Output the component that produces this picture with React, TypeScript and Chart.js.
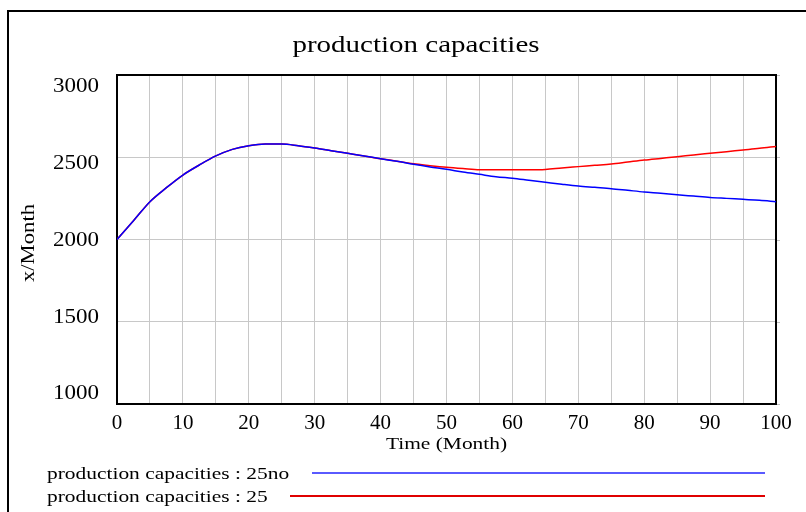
import { useEffect, useRef } from "react";
import { Chart, registerables } from "chart.js";

Chart.register(...registerables);

const chartTitle = "production capacities";
const xAxisTitle = "Time (Month)";
const yAxisTitle = "x/Month";
const seriesNames = ["production capacities : 25no", "production capacities : 25"];

const months = [
  0, 2.5, 5, 7.5, 10, 12.5, 15, 17.5, 20, 22.5, 25, 27.5, 30, 32.5, 35, 37.5, 40, 42.5,
  45, 47.5, 50, 52.5, 55, 57.5, 60, 62.5, 65, 67.5, 70, 72.5, 75, 77.5, 80, 82.5, 85, 87.5,
  90, 92.5, 95, 97.5, 100,
];

const capacity25no = [
  2000, 2114, 2230, 2315, 2392, 2453, 2508, 2548, 2570, 2580, 2580, 2570, 2556, 2540, 2524, 2508, 2491, 2475,
  2457, 2441, 2427, 2410, 2396, 2382, 2372, 2360, 2348, 2336, 2325, 2317, 2309, 2299, 2289, 2281, 2272, 2264,
  2256, 2250, 2244, 2238, 2230,
];

const capacity25 = [
  2000, 2114, 2230, 2315, 2392, 2453, 2508, 2548, 2570, 2580, 2580, 2570, 2556, 2540, 2524, 2508, 2491, 2476,
  2460, 2449, 2439, 2431, 2424, 2424, 2424, 2424, 2426, 2435, 2443, 2451, 2459, 2471, 2483, 2493, 2503, 2514,
  2524, 2534, 2544, 2554, 2566,
];

const xTickLabels = ["0", "10", "20", "30", "40", "50", "60", "70", "80", "90", "100"];
const yTickLabels = ["1000", "1500", "2000", "2500", "3000"];

const FONT = '"Liberation Serif", "Times New Roman", serif';
const SX = 1.26;

function stretchedText(
  ctx: CanvasRenderingContext2D,
  text: string,
  x: number,
  y: number,
  size: number,
  align: CanvasTextAlign,
  sx: number,
  rotate = 0,
  baseline: CanvasTextBaseline = "alphabetic"
) {
  ctx.save();
  ctx.translate(x, y);
  if (rotate) ctx.rotate(rotate);
  ctx.scale(sx, 1);
  ctx.font = `${size}px ${FONT}`;
  ctx.fillStyle = "#000";
  ctx.textAlign = align;
  ctx.textBaseline = baseline;
  ctx.fillText(text, 0, 0);
  ctx.restore();
}

const decorPlugin = {
  id: "decor",
  beforeDatasetsDraw(chart: any) {
    const { ctx, chartArea: a } = chart;
    const ys = chart.scales.y;
    ctx.save();
    // small ticks beyond right border
    ctx.strokeStyle = "#c0c0c0";
    ctx.lineWidth = 1;
    yTickLabels.forEach((l) => {
      const py = Math.round(ys.getPixelForValue(Number(l))) + 0.5;
      ctx.beginPath();
      ctx.moveTo(a.right, py);
      ctx.lineTo(a.right + 4, py);
      ctx.stroke();
    });
    ctx.strokeStyle = "#000";
    ctx.lineWidth = 2;
    ctx.strokeRect(a.left, a.top, a.right - a.left, a.bottom - a.top);
    ctx.restore();
  },
  afterDraw(chart: any) {
    const { ctx, chartArea: a } = chart;
    const ys = chart.scales.y;
    // outer frame
    ctx.save();
    ctx.strokeStyle = "#000";
    ctx.lineWidth = 2;
    ctx.strokeRect(8, 11, 820, 520);
    ctx.restore();

    // y tick labels (laid inside the axis range, as in the source)
    const h = a.bottom - a.top;
    const top = a.top + 12;
    const bottom = a.bottom - 10;
    yTickLabels.forEach((l) => {
      const py = ys.getPixelForValue(Number(l));
      const ly = top + ((py - a.top) * (bottom - top)) / h;
      stretchedText(ctx, l, 99, ly, 20, "right", 1.15, 0, "middle");
    });

    stretchedText(ctx, chartTitle, 416, 52, 23, "center", SX);
    stretchedText(ctx, xAxisTitle, (a.left + a.right) / 2, 449, 17, "center", SX);
    stretchedText(ctx, yAxisTitle, 34, 243, 18, "center", SX, -Math.PI / 2);

    const rows = [
      { y: 479, lineY: 473, x0: 312, color: "#5a5aff" },
      { y: 502, lineY: 496, x0: 290, color: "#e00000" },
    ];
    rows.forEach((r, i) => {
      stretchedText(ctx, seriesNames[i], 47, r.y, 17, "left", SX);
      ctx.save();
      ctx.strokeStyle = r.color;
      ctx.lineWidth = 2;
      ctx.beginPath();
      ctx.moveTo(r.x0, r.lineY);
      ctx.lineTo(765, r.lineY);
      ctx.stroke();
      ctx.restore();
    });
  },
};

export default function App() {
  const ref = useRef<HTMLCanvasElement | null>(null);

  useEffect(() => {
    if (!ref.current) return;
    const chart = new Chart(ref.current, {
      type: "line",
      data: {
        datasets: [
          {
            label: seriesNames[0],
            data: months.map((m, i) => ({ x: m, y: capacity25no[i] })),
            borderColor: "#0000ff",
            borderWidth: 1.5,
            pointRadius: 0,
            cubicInterpolationMode: "monotone",
            order: 0,
          },
          {
            label: seriesNames[1],
            data: months.map((m, i) => ({ x: m, y: capacity25[i] })),
            borderColor: "#ff0000",
            borderWidth: 1.5,
            pointRadius: 0,
            cubicInterpolationMode: "monotone",
            order: 1,
          },
        ],
      },
      options: {
        responsive: false,
        animation: false,
        layout: { padding: { left: 0, top: 75, right: 30, bottom: 0 } },
        plugins: {
          legend: { display: false },
          title: { display: false },
          tooltip: { enabled: false },
        },
        scales: {
          x: {
            type: "linear",
            min: 0,
            max: 100,
            afterFit: (s: any) => {
              s.height = 108;
            },
            afterBuildTicks: (s: any) => {
              const t = [];
              for (let v = 0; v <= 100; v += 5) t.push({ value: v });
              s.ticks = t;
            },
            ticks: {
              autoSkip: false,
              maxRotation: 0,
              padding: 7,
              color: "#000",
              font: { family: FONT, size: 21 },
              callback: (v: any) => {
                const idx = xTickLabels.indexOf(String(v));
                return idx >= 0 ? xTickLabels[idx] : "";
              },
            },
            grid: { color: "#c8c8c8", lineWidth: 1, drawTicks: false },
            border: { display: false },
          },
          y: {
            type: "linear",
            min: 1000,
            max: 3000,
            afterFit: (s: any) => {
              s.width = 117;
            },
            afterBuildTicks: (s: any) => {
              s.ticks = yTickLabels.map((l) => ({ value: Number(l) }));
            },
            ticks: {
              display: false,
            },
            grid: { color: "#c8c8c8", lineWidth: 1, drawTicks: false },
            border: { display: false },
          },
        },
      },
      plugins: [decorPlugin],
    });
    return () => chart.destroy();
  }, []);

  return (
    <div style={{ position: "absolute", left: 0, top: 0, width: 806, height: 512, background: "#fff" }}>
      <canvas ref={ref} width={806} height={512} style={{ display: "block" }} />
    </div>
  );
}
